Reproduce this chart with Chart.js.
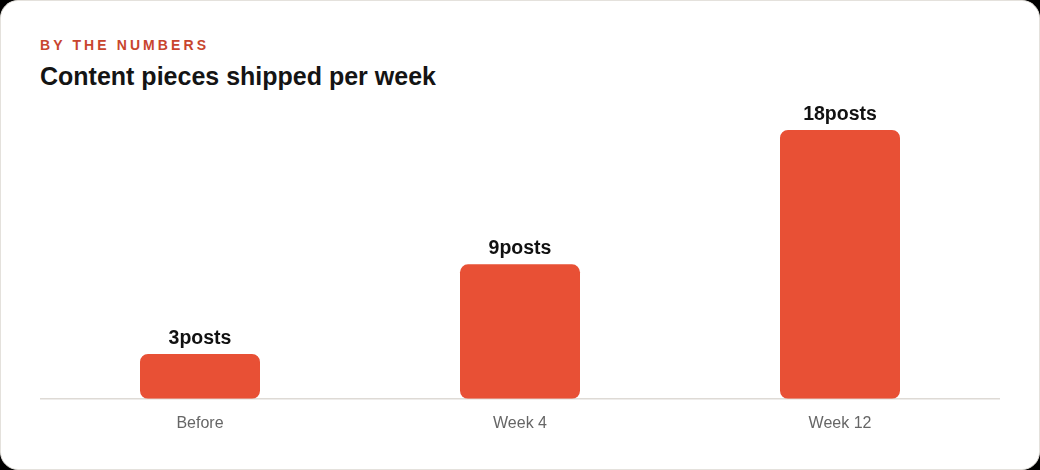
<!DOCTYPE html>
<html>
<head>
<meta charset="utf-8">
<script src="https://cdn.jsdelivr.net/npm/chart.js@4"></script>
<style>
  html, body { margin: 0; padding: 0; background: #000; }
  body { width: 1040px; height: 470px; overflow: hidden; font-family: "Liberation Sans", Arial, sans-serif; }
  .card {
    position: absolute; left: 0; top: 0; width: 1038px; height: 468px;
    background: #fff; border: 1px solid #e4e1dc; border-radius: 18px;
  }
  .kicker {
    position: absolute; left: 39px; top: 36px; margin: 0;
    font-size: 14px; font-weight: bold; letter-spacing: 3.1px; color: #c8452e;
  }
  .title {
    position: absolute; left: 39px; top: 61px; margin: 0;
    font-size: 25px; font-weight: bold; color: #141414;
  }
  .chart-box { position: absolute; left: 39px; top: 99px; width: 960px; height: 340px; }
</style>
</head>
<body>
<div class="card">
  <p class="kicker">BY THE NUMBERS</p>
  <p class="title">Content pieces shipped per week</p>
  <div class="chart-box"><canvas id="myChart"></canvas></div>
</div>
<script>
const labels = ['Before', 'Week 4', 'Week 12'];
const posts = [3, 9, 18];
const unit = 'posts';

const valueLabels = {
    id: 'valueLabels',
    afterDatasetsDraw(chart) {
        const c = chart.ctx;
        const meta = chart.getDatasetMeta(0);
        c.save();
        c.font = 'bold 19.5px "Liberation Sans", Arial, sans-serif';
        c.fillStyle = '#111';
        c.textAlign = 'center';
        c.textBaseline = 'bottom';
        meta.data.forEach((bar, i) => {
            c.fillText(posts[i] + unit, bar.x, bar.y - 6);
        });
        c.restore();
    }
};

new Chart('myChart', {
    type: 'bar',
    data: {
        labels: labels,
        datasets: [{
            data: posts,
            backgroundColor: '#e85035',
            borderRadius: 8,
            borderSkipped: false,
            barPercentage: 0.375,
            categoryPercentage: 1
        }]
    },
    options: {
        responsive: true,
        maintainAspectRatio: false,
        animation: false,
        layout: { padding: 0 },
        scales: {
            y: {
                display: false,
                min: 0,
                max: 20
            },
            x: {
                grid: { display: false },
                border: { display: true, color: '#dedad5', width: 1.5 },
                ticks: {
                    color: '#666',
                    padding: 7,
                    font: { size: 16, family: '"Liberation Sans", Arial, sans-serif' }
                }
            }
        },
        plugins: {
            legend: false,
            tooltip: { enabled: false }
        }
    },
    plugins: [valueLabels]
});
</script>
</body>
</html>
